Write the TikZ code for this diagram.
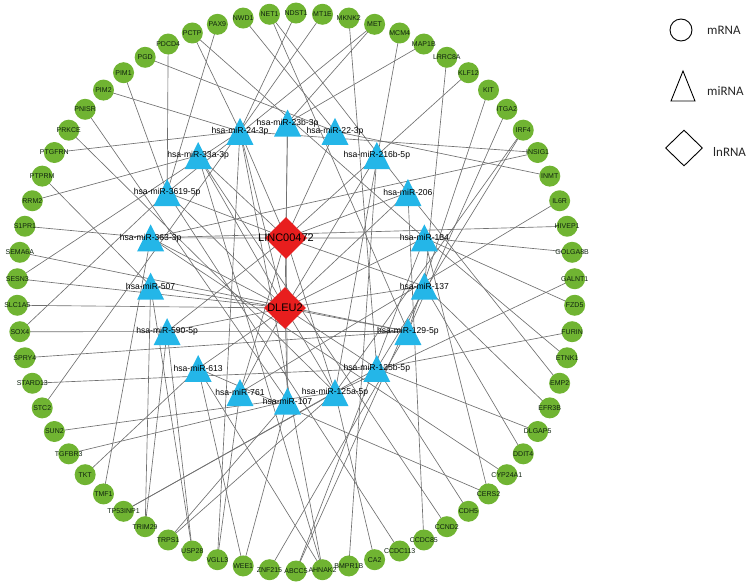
\documentclass[tikz,border=0pt]{standalone}
\usepackage{fontspec}
\setmainfont{Liberation Sans}
\newfontfamily\legfont{Carlito}
\usetikzlibrary{shapes.geometric}
\definecolor{mgreen}{RGB}{112,180,50}
\definecolor{mblue}{RGB}{36,182,232}
\definecolor{lred}{RGB}{232,30,30}
\definecolor{egray}{RGB}{112,112,112}
\definecolor{mtext}{RGB}{15,35,15}
\pgfdeclarelayer{bg}
\pgfdeclarelayer{fg}
\pgfsetlayers{bg,main,fg}
\begin{document}
\begin{tikzpicture}[x=1pt,y=-1pt,
  mrna/.style={circle,fill=mgreen,minimum size=21pt,inner sep=0pt},
  mrnalab/.style={font=\fontsize{7}{8}\selectfont,text=mtext,inner sep=0pt},
  mirna/.style={rectangle,minimum width=27pt,minimum height=27pt,inner sep=0pt,
     path picture={\fill[mblue] (path picture bounding box.north) -- (path picture bounding box.south east) -- (path picture bounding box.south west) -- cycle;}},
  mirlab/.style={font=\fontsize{8.6}{9}\selectfont,text=black,inner sep=0pt},
  lnc/.style={diamond,fill=lred,minimum width=42pt,minimum height=42pt,inner sep=0pt},
  lnclab/.style={font=\fontsize{11}{12}\selectfont,text=black,inner sep=0pt},
  edge/.style={draw=egray,line width=0.65pt},
  legtext/.style={font=\legfont\fontsize{13}{14}\selectfont,text=black!85,anchor=west,inner sep=0pt}]
\useasboundingbox (0,0) rectangle (750,584);

% mRNA ring
\foreach \nm [count=\i from 0] in {ABCC5,AHNAK2,BMPR1B,CA2,CCDC113,CCDC85,CCND2,CDH5,CERS2,CYP24A1,DDIT4,DLGAP5,EFR3B,EMP2,ETNK1,FURIN,FZD5,GALNT1,GOLGA8B,HIVEP1,IL6R,INMT,INSIG1,IRF4,ITGA2,KIT,KLF12,LRRC8A,MAP1B,MCM4,MET,MKNK2,MT1E,NDST1,NET1,NWD1,PAX9,PCTP,PDCD4,PGD,PIM1,PIM2,PNISR,PRKCE,PTGFRN,PTPRM,RRM2,S1PR1,SEMA6A,SESN3,SLC1A5,SOX4,SPRY4,STARD13,STC2,SUN2,TGFBR3,TKT,TMF1,TP53INP1,TRIM29,TRPS1,USP28,VGLL3,WEE1,ZNF215}
  {\node[mrna] (\nm) at ({296+279*cos(-90+\i*5.454545)},{292-279*sin(-90+\i*5.454545)}) {};}

% miRNA ring
\foreach \k/\a in {m23b/90,m22/70,m216b/50,m206/30,m184/10,m137/-10,m129/-30,m125b/-50,m125a/-70,m107/-90,m761/-110,m613/-130,m590/-150,m507/-170,m363/170,m3619/150,m33a/130,m24/110}
  {\node[mirna] (\k) at ({287.5+139*cos(\a)},{262-139*sin(\a)}) {};}

% lncRNAs
\node[lnc] (linc) at (286,238) {};
\node[lnc] (dleu) at (285,308) {};

% edges
\begin{pgfonlayer}{bg}
\foreach \a/\b in {ABCC5/m137,AHNAK2/m33a,AHNAK2/m24,AHNAK2/m613,BMPR1B/m216b,CA2/m125a,CCDC113/m3619,CCDC85/m206,CCND2/m33a,CDH5/m125b,CERS2/m184,CERS2/m613,CYP24A1/m363,DDIT4/m137,DLGAP5/m125b,EFR3B/m137,EMP2/m206,ETNK1/m184,FURIN/m125b,FZD5/m184,GALNT1/m125a,GOLGA8B/m184,HIVEP1/m363,IL6R/m761,INMT/m22,INSIG1/m24,INSIG1/m363,IRF4/m125b,IRF4/m125a,ITGA2/m129,KIT/m129,KLF12/m216b,LRRC8A/m137,MAP1B/m23b,MCM4/m125a,MET/m23b,MKNK2/m125b,MT1E/m24,NDST1/m24,NET1/m206,NWD1/m22,PAX9/m3619,PCTP/m24,PCTP/m184,PDCD4/m3619,PGD/m22,PIM1/m3619,PIM2/m24,PNISR/m107,PRKCE/m125a,PTGFRN/m24,PTPRM/m507,RRM2/m33a,S1PR1/m363,SEMA6A/m129,SESN3/dleu,SESN3/m24,SLC1A5/dleu,SOX4/m129,SOX4/m3619,SPRY4/m129,STARD13/m125b,STC2/m24,SUN2/m125a,TGFBR3/m107,TKT/m613,TMF1/m363,TP53INP1/m125a,TP53INP1/m125b,TRIM29/m507,TRIM29/m590,TRPS1/m125a,USP28/m507,VGLL3/m24,WEE1/m613,ZNF215/m129,WEE1/m107,VGLL3/m761,TRPS1/m107,USP28/m590,ABCC5/m184,MET/m3619,NET1/m129}
  {\draw[edge] (\a.center) -- (\b.center);}
\foreach \b in {m23b,m24,m22,m33a,m3619,m216b,m206,m363,m184,m137,m590,m107,m125a,m761}
  {\draw[edge] (linc.center) -- (\b.center);}
\foreach \b in {m24,m23b,m3619,m206,m363,m507,m184,m137,m590,m129,m613,m125b,m761,m107,m125a,m216b,m33a}
  {\draw[edge] (dleu.center) -- (\b.center);}
\end{pgfonlayer}

% labels
\begin{pgfonlayer}{fg}
\foreach \nm in {ABCC5,AHNAK2,BMPR1B,CA2,CCDC113,CCDC85,CCND2,CDH5,CERS2,CYP24A1,DDIT4,DLGAP5,EFR3B,EMP2,ETNK1,FURIN,FZD5,GALNT1,GOLGA8B,HIVEP1,IL6R,INMT,INSIG1,IRF4,ITGA2,KIT,KLF12,LRRC8A,MAP1B,MCM4,MET,MKNK2,MT1E,NDST1,NET1,NWD1,PAX9,PCTP,PDCD4,PGD,PIM1,PIM2,PNISR,PRKCE,PTGFRN,PTPRM,RRM2,S1PR1,SEMA6A,SESN3,SLC1A5,SOX4,SPRY4,STARD13,STC2,SUN2,TGFBR3,TKT,TMF1,TP53INP1,TRIM29,TRPS1,USP28,VGLL3,WEE1,ZNF215}
  {\node[mrnalab] (\nm-t) at (\nm.center) {\nm};}
\foreach \k/\lab in {m23b/hsa-miR-23b-3p,m22/hsa-miR-22-3p,m216b/hsa-miR-216b-5p,m206/hsa-miR-206,m184/hsa-miR-184,m137/hsa-miR-137,m129/hsa-miR-129-5p,m125b/hsa-miR-125b-5p,m125a/hsa-miR-125a-5p,m107/hsa-miR-107,m761/hsa-miR-761,m613/hsa-miR-613,m590/hsa-miR-590-5p,m507/hsa-miR-507,m363/hsa-miR-363-3p,m3619/hsa-miR-3619-5p,m33a/hsa-miR-33a-3p,m24/hsa-miR-24-3p}
  {\node[mirlab] (\k-t) at (\k.center) {\lab};}
\node[lnclab] (linc-t) at (linc.center) {LINC00472};
\node[lnclab] (dleu-t) at (dleu.center) {DLEU2};
\end{pgfonlayer}

% legend
\node[circle,draw,line width=0.9pt,minimum size=22pt,inner sep=0pt] (legc) at (681,30) {};
\node[legtext] (legc-t) at (707,30) {mRNA};
\coordinate (legtri) at (683,88);
\draw[line width=0.9pt,line join=miter] (683,71) -- (695,101) -- (671,101) -- cycle;
\node[legtext] (legt-t) at (707,91) {miRNA};
\node[diamond,draw,line width=0.9pt,minimum width=37pt,minimum height=36pt,inner sep=0pt] (legd) at (684,148) {};
\node[legtext] (legd-t) at (713,152) {lnRNA};
\end{tikzpicture}
\end{document}
